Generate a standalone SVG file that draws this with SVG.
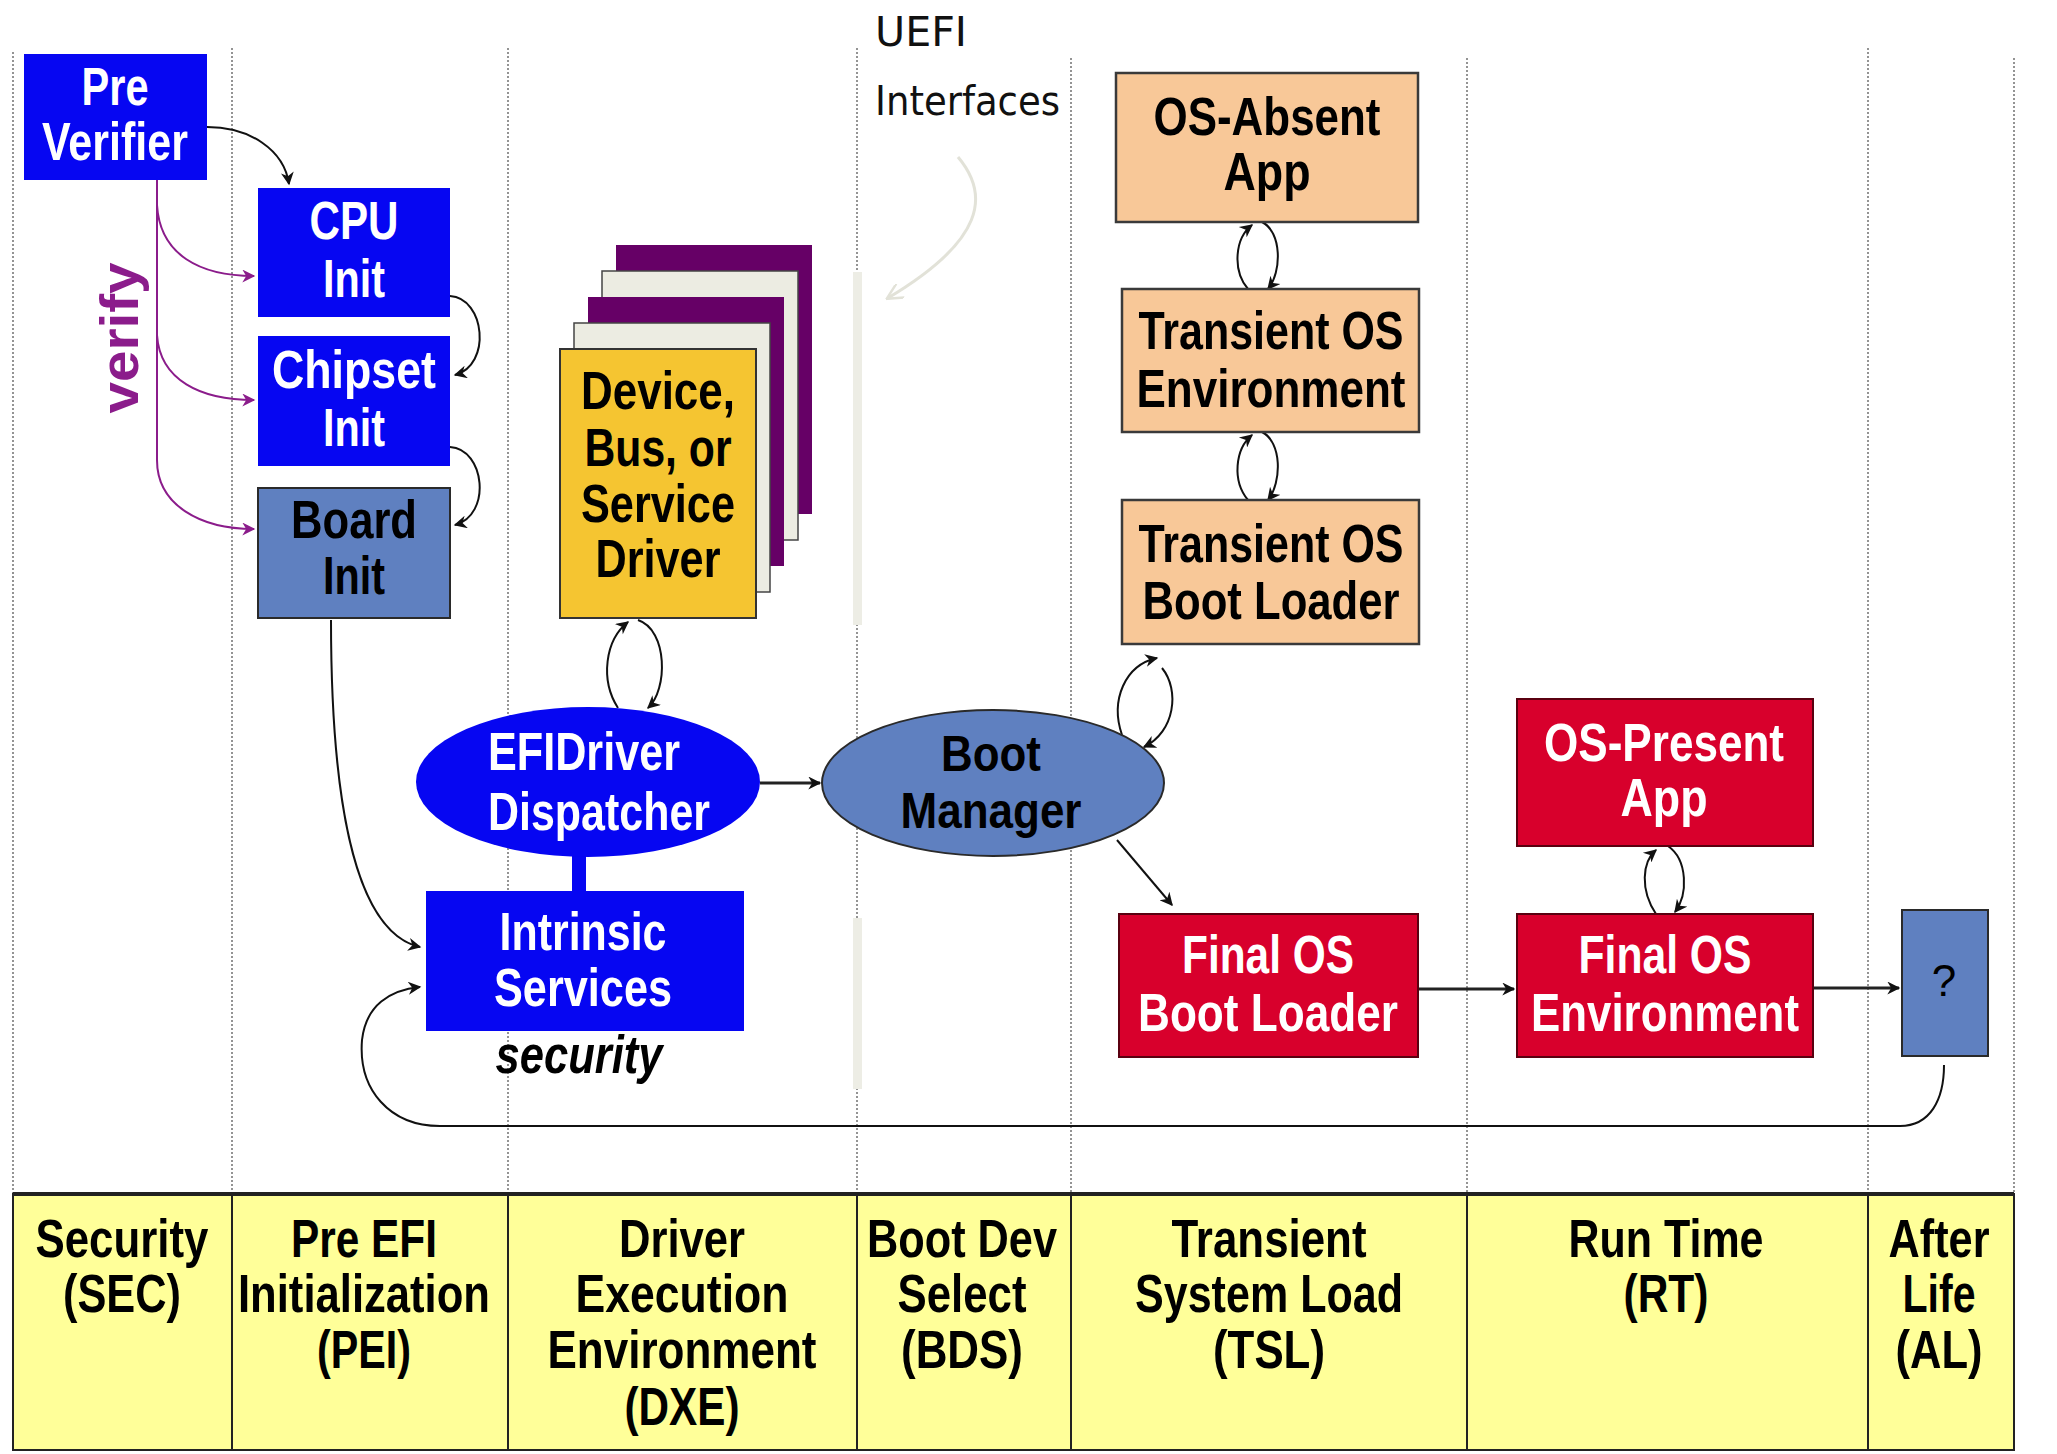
<svg xmlns="http://www.w3.org/2000/svg" width="2057" height="1454" viewBox="0 0 2057 1454">
<defs>
<style>
.lane{stroke:#7a7a7a;stroke-width:1.6;stroke-dasharray:2 2;fill:none}
.t{font-family:"Liberation Sans",Arial,sans-serif;font-weight:bold;text-anchor:middle;font-size:54px}
.w{fill:#ffffff}
.k{fill:#000000}
.blue{fill:#0606f2}
.steel{fill:#5f80c0;stroke:#2a2a2a;stroke-width:2}
.tan{fill:#f8c898;stroke:#3a3a3a;stroke-width:2.5}
.red{fill:#d8002c;stroke:#5a0010;stroke-width:2}
.conn{fill:none;stroke:#111;stroke-width:2}
.thick{fill:none;stroke:#222;stroke-width:3}
.vfy{fill:none;stroke:#8b1c8b;stroke-width:2}
.pale{fill:#ededE5}
</style>
<marker id="ah" viewBox="0 0 10 10" refX="9" refY="5" markerWidth="15" markerHeight="13" markerUnits="userSpaceOnUse" orient="auto"><path d="M0,0 L10,5 L0,10 L3,5 z" fill="#111"/></marker>
<marker id="ahp" viewBox="0 0 10 10" refX="9" refY="5" markerWidth="15" markerHeight="13" markerUnits="userSpaceOnUse" orient="auto"><path d="M0,0 L10,5 L0,10 L3,5 z" fill="#8b1c8b"/></marker>
<marker id="ahpale" viewBox="0 0 10 10" refX="9" refY="5" markerWidth="18" markerHeight="16" markerUnits="userSpaceOnUse" orient="auto"><path d="M0,0 L10,5 L0,10" fill="none" stroke="#e2e2d8" stroke-width="1.5"/></marker>
</defs>
<rect width="2057" height="1454" fill="#ffffff"/>

<g id="lanes">
<line class="lane" x1="13" y1="52" x2="13" y2="1194"/>
<line class="lane" x1="232" y1="48" x2="232" y2="1194"/>
<line class="lane" x1="508" y1="48" x2="508" y2="1194"/>
<line class="lane" x1="857" y1="48" x2="857" y2="1194"/>
<line class="lane" x1="1071" y1="58" x2="1071" y2="1194"/>
<line class="lane" x1="1467" y1="58" x2="1467" y2="1194"/>
<line class="lane" x1="1868" y1="48" x2="1868" y2="1194"/>
<line class="lane" x1="2014" y1="58" x2="2014" y2="1194"/>
<rect class="pale" x="853" y="272" width="9" height="353"/>
<rect class="pale" x="853" y="918" width="9" height="171"/>
</g>

<g id="phase-table">
<rect x="13" y="1194" width="2001" height="256" fill="#ffff99" stroke="#222" stroke-width="2"/>
<line x1="13" y1="1194" x2="2014" y2="1194" stroke="#222" stroke-width="4"/>
<g stroke="#222" stroke-width="2">
<line x1="232" y1="1194" x2="232" y2="1450"/>
<line x1="508" y1="1194" x2="508" y2="1450"/>
<line x1="857" y1="1194" x2="857" y2="1450"/>
<line x1="1071" y1="1194" x2="1071" y2="1450"/>
<line x1="1467" y1="1194" x2="1467" y2="1450"/>
<line x1="1868" y1="1194" x2="1868" y2="1450"/>
</g>
<text class="t k"><tspan x="122" y="1257" textLength="173" lengthAdjust="spacingAndGlyphs">Security</tspan><tspan x="122" y="1312" textLength="118" lengthAdjust="spacingAndGlyphs">(SEC)</tspan></text>
<text class="t k"><tspan x="364" y="1257" textLength="146" lengthAdjust="spacingAndGlyphs">Pre EFI</tspan><tspan x="364" y="1312" textLength="252" lengthAdjust="spacingAndGlyphs">Initialization</tspan><tspan x="364" y="1368" textLength="94" lengthAdjust="spacingAndGlyphs">(PEI)</tspan></text>
<text class="t k"><tspan x="682" y="1257" textLength="126" lengthAdjust="spacingAndGlyphs">Driver</tspan><tspan x="682" y="1312" textLength="213" lengthAdjust="spacingAndGlyphs">Execution</tspan><tspan x="682" y="1368" textLength="269" lengthAdjust="spacingAndGlyphs">Environment</tspan><tspan x="682" y="1425" textLength="115" lengthAdjust="spacingAndGlyphs">(DXE)</tspan></text>
<text class="t k"><tspan x="962" y="1257" textLength="190" lengthAdjust="spacingAndGlyphs">Boot Dev</tspan><tspan x="962" y="1312" textLength="129" lengthAdjust="spacingAndGlyphs">Select</tspan><tspan x="962" y="1368" textLength="122" lengthAdjust="spacingAndGlyphs">(BDS)</tspan></text>
<text class="t k"><tspan x="1269" y="1257" textLength="195" lengthAdjust="spacingAndGlyphs">Transient</tspan><tspan x="1269" y="1312" textLength="268" lengthAdjust="spacingAndGlyphs">System Load</tspan><tspan x="1269" y="1368" textLength="112" lengthAdjust="spacingAndGlyphs">(TSL)</tspan></text>
<text class="t k"><tspan x="1666" y="1257" textLength="195" lengthAdjust="spacingAndGlyphs">Run Time</tspan><tspan x="1666" y="1312" textLength="85" lengthAdjust="spacingAndGlyphs">(RT)</tspan></text>
<text class="t k"><tspan x="1939" y="1257" textLength="101" lengthAdjust="spacingAndGlyphs">After</tspan><tspan x="1939" y="1312" textLength="73" lengthAdjust="spacingAndGlyphs">Life</tspan><tspan x="1939" y="1368" textLength="87" lengthAdjust="spacingAndGlyphs">(AL)</tspan></text>
</g>

<g id="uefi-interfaces">
<text font-family="DejaVu Sans, sans-serif" font-size="40" fill="#111"><tspan x="875" y="46" textLength="92" lengthAdjust="spacingAndGlyphs">UEFI</tspan><tspan x="875" y="115" textLength="185" lengthAdjust="spacingAndGlyphs">Interfaces</tspan></text>
<path d="M958,157 C990,195 985,240 888,298" fill="none" stroke="#e2e2d8" stroke-width="3" marker-end="url(#ahpale)"/>
</g>

<g id="connectors">
<path class="conn" d="M207,127 C250,127 284,150 289,184" marker-end="url(#ah)"/>
<path class="vfy" d="M157,180 L157,460 C157,505 200,529 254,529" marker-end="url(#ahp)"/>
<path class="vfy" d="M157,205 C160,255 200,276 254,276" marker-end="url(#ahp)"/>
<path class="vfy" d="M157,335 C160,380 200,400 254,400" marker-end="url(#ahp)"/>
<path class="conn" d="M450,296 C485,298 492,365 455,375" marker-end="url(#ah)"/>
<path class="conn" d="M450,447 C485,449 492,515 455,525" marker-end="url(#ah)"/>
<path class="conn" d="M331,620 C331,760 345,930 420,947" marker-end="url(#ah)"/>
<path class="conn" d="M1944,1065 C1944,1100 1930,1126 1900,1126 L440,1126 C390,1126 358,1090 362,1040 C366,1005 390,990 420,987" marker-end="url(#ah)"/>
<path class="conn" d="M618,708 C600,680 605,640 628,622" marker-end="url(#ah)"/>
<path class="conn" d="M638,620 C668,630 668,690 648,708" marker-end="url(#ah)"/>
<path class="thick" d="M760,783 L820,783" marker-end="url(#ah)"/>
<path class="conn" d="M1248,289 C1232,270 1235,238 1252,225" marker-end="url(#ah)"/>
<path class="conn" d="M1262,222 C1282,232 1282,272 1268,289" marker-end="url(#ah)"/>
<path class="conn" d="M1248,500 C1232,481 1235,449 1252,435" marker-end="url(#ah)"/>
<path class="conn" d="M1262,432 C1282,442 1282,482 1268,500" marker-end="url(#ah)"/>
<path class="conn" d="M1122,735 C1110,700 1125,665 1157,658" marker-end="url(#ah)"/>
<path class="conn" d="M1162,668 C1180,690 1175,732 1144,747" marker-end="url(#ah)"/>
<path class="conn" d="M1117,840 L1172,905" marker-end="url(#ah)"/>
<path class="thick" d="M1418,989 L1514,989" marker-end="url(#ah)"/>
<path class="thick" d="M1813,988 L1899,988" marker-end="url(#ah)"/>
<path class="conn" d="M1656,914 C1640,890 1642,862 1656,850" marker-end="url(#ah)"/>
<path class="conn" d="M1668,846 C1688,860 1688,895 1675,912" marker-end="url(#ah)"/>
<rect x="572" y="852" width="14" height="41" fill="#0606f2"/>
</g>

<g id="verify-label">
<text class="t" fill="#8b1c8b" font-size="50" transform="translate(138,338) rotate(-90)" textLength="151" lengthAdjust="spacingAndGlyphs">verify</text>
</g>

<g id="pre-verifier">
<rect class="blue" x="24" y="54" width="183" height="126"/>
<text class="t w"><tspan x="115" y="105" textLength="67" lengthAdjust="spacingAndGlyphs">Pre</tspan><tspan x="115" y="160" textLength="146" lengthAdjust="spacingAndGlyphs">Verifier</tspan></text>
</g>

<g id="cpu-init">
<rect class="blue" x="258" y="188" width="192" height="129"/>
<text class="t w"><tspan x="354" y="239" textLength="89" lengthAdjust="spacingAndGlyphs">CPU</tspan><tspan x="354" y="297" textLength="62" lengthAdjust="spacingAndGlyphs">Init</tspan></text>
</g>

<g id="chipset-init">
<rect class="blue" x="258" y="336" width="192" height="130"/>
<text class="t w"><tspan x="354" y="388" textLength="164" lengthAdjust="spacingAndGlyphs">Chipset</tspan><tspan x="354" y="446" textLength="62" lengthAdjust="spacingAndGlyphs">Init</tspan></text>
</g>

<g id="board-init">
<rect class="steel" x="258" y="488" width="192" height="130"/>
<text class="t k"><tspan x="354" y="538" textLength="126" lengthAdjust="spacingAndGlyphs">Board</tspan><tspan x="354" y="594" textLength="62" lengthAdjust="spacingAndGlyphs">Init</tspan></text>
</g>

<g id="driver-stack">
<rect x="616" y="245" width="196" height="269" fill="#660066"/>
<rect x="602" y="271" width="196" height="269" fill="#ecece2" stroke="#444" stroke-width="1.5"/>
<rect x="588" y="297" width="196" height="269" fill="#660066"/>
<rect x="574" y="323" width="196" height="269" fill="#ecece2" stroke="#444" stroke-width="1.5"/>
<rect x="560" y="349" width="196" height="269" fill="#f5c531" stroke="#333" stroke-width="2"/>
<text class="t k"><tspan x="658" y="409" textLength="154" lengthAdjust="spacingAndGlyphs">Device,</tspan><tspan x="658" y="466" textLength="147" lengthAdjust="spacingAndGlyphs">Bus, or</tspan><tspan x="658" y="522" textLength="154" lengthAdjust="spacingAndGlyphs">Service</tspan><tspan x="658" y="577" textLength="125" lengthAdjust="spacingAndGlyphs">Driver</tspan></text>
</g>

<g id="efi-driver-dispatcher">
<ellipse class="blue" cx="588" cy="782" rx="172" ry="75"/>
<text class="t w" style="text-anchor:start"><tspan x="488" y="770" textLength="192" lengthAdjust="spacingAndGlyphs">EFIDriver</tspan><tspan x="488" y="830" textLength="222" lengthAdjust="spacingAndGlyphs">Dispatcher</tspan></text>
</g>

<g id="intrinsic-services">
<rect class="blue" x="426" y="891" width="318" height="140"/>
<text class="t w"><tspan x="583" y="950" textLength="167" lengthAdjust="spacingAndGlyphs">Intrinsic</tspan><tspan x="583" y="1006" textLength="178" lengthAdjust="spacingAndGlyphs">Services</tspan></text>
<text class="t k" font-style="italic" x="579" y="1073" textLength="167" lengthAdjust="spacingAndGlyphs">security</text>
</g>

<g id="boot-manager">
<ellipse class="steel" cx="993" cy="783" rx="171" ry="73"/>
<text class="t k" style="font-size:50px"><tspan x="991" y="771" textLength="100" lengthAdjust="spacingAndGlyphs">Boot</tspan><tspan x="991" y="828" textLength="181" lengthAdjust="spacingAndGlyphs">Manager</tspan></text>
</g>

<g id="os-absent-app">
<rect class="tan" x="1116" y="73" width="302" height="149"/>
<text class="t k"><tspan x="1267" y="135" textLength="227" lengthAdjust="spacingAndGlyphs">OS-Absent</tspan><tspan x="1267" y="190" textLength="87" lengthAdjust="spacingAndGlyphs">App</tspan></text>
</g>

<g id="transient-os-environment">
<rect class="tan" x="1122" y="289" width="297" height="143"/>
<text class="t k"><tspan x="1271" y="349" textLength="265" lengthAdjust="spacingAndGlyphs">Transient OS</tspan><tspan x="1271" y="407" textLength="269" lengthAdjust="spacingAndGlyphs">Environment</tspan></text>
</g>

<g id="transient-os-boot-loader">
<rect class="tan" x="1122" y="500" width="297" height="144"/>
<text class="t k"><tspan x="1271" y="562" textLength="265" lengthAdjust="spacingAndGlyphs">Transient OS</tspan><tspan x="1271" y="619" textLength="257" lengthAdjust="spacingAndGlyphs">Boot Loader</tspan></text>
</g>

<g id="final-os-boot-loader">
<rect class="red" x="1119" y="914" width="299" height="143"/>
<text class="t w"><tspan x="1268" y="973" textLength="172" lengthAdjust="spacingAndGlyphs">Final OS</tspan><tspan x="1268" y="1031" textLength="260" lengthAdjust="spacingAndGlyphs">Boot Loader</tspan></text>
</g>

<g id="os-present-app">
<rect class="red" x="1517" y="699" width="296" height="147"/>
<text class="t w"><tspan x="1664" y="761" textLength="240" lengthAdjust="spacingAndGlyphs">OS-Present</tspan><tspan x="1664" y="816" textLength="87" lengthAdjust="spacingAndGlyphs">App</tspan></text>
</g>

<g id="final-os-environment">
<rect class="red" x="1517" y="914" width="296" height="143"/>
<text class="t w"><tspan x="1665" y="973" textLength="173" lengthAdjust="spacingAndGlyphs">Final OS</tspan><tspan x="1665" y="1031" textLength="268" lengthAdjust="spacingAndGlyphs">Environment</tspan></text>
</g>

<g id="after-life-unknown">
<rect class="steel" x="1902" y="910" width="86" height="146"/>
<text class="t k" style="font-weight:normal;font-size:44px" x="1944" y="996">?</text>
</g>
</svg>
